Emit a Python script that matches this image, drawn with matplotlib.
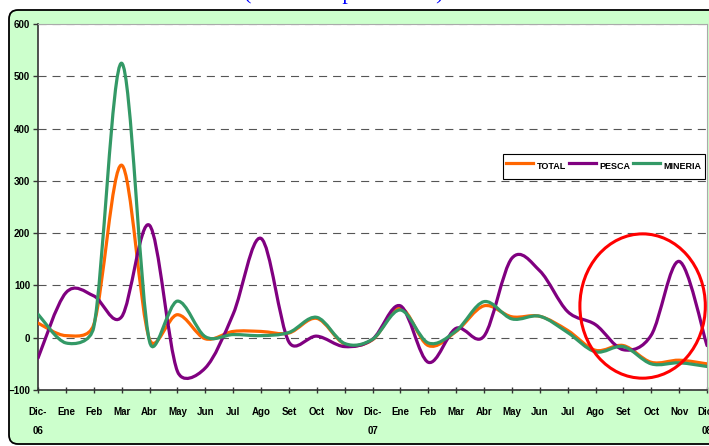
import numpy as np
import matplotlib
matplotlib.use('Agg')
import matplotlib.pyplot as plt
from matplotlib.path import Path
from matplotlib.patches import PathPatch, Ellipse, FancyBboxPatch
from matplotlib.lines import Line2D
from matplotlib.transforms import IdentityTransform

# datos (variacion porcentual mensual)
meses = ['Dic-\n06', 'Ene', 'Feb', 'Mar', 'Abr', 'May', 'Jun', 'Jul', 'Ago', 'Set', 'Oct', 'Nov',
         'Dic-\n07', 'Ene', 'Feb', 'Mar', 'Abr', 'May', 'Jun', 'Jul', 'Ago', 'Set', 'Oct', 'Nov',
         'Dic-\n08']
total = [28, 4, 25, 330, -3, 44, -2, 12, 12, 9, 37, -12,
         -4, 57, -15, 12, 61, 40, 41, 14, -24, -15, -47, -43, -50]
pesca = [-39, 86, 80, 40, 215, -64, -58, 45, 190, -8, 3, -17,
         -3, 61, -47, 18, 3, 152, 128, 50, 25, -23, 5, 146, -15]
mineria = [45, -10, 20, 525, -7, 70, 2, 6, 4, 10, 39, -11,
           -3, 53, -10, 13, 69, 36, 41, 10, -27, -17, -50, -48, -55]
y_ticks = [-100, 0, 100, 200, 300, 400, 500, 600]

series = [('TOTAL', total, '#FF6600'), ('PESCA', pesca, '#800080'), ('MINERIA', mineria, '#339966')]

plt.rcParams['font.family'] = ['Liberation Sans', 'DejaVu Sans']
plt.rcParams['font.weight'] = 'bold'
plt.rcParams['lines.scale_dashes'] = False


# linea suavizada como en Excel: Bezier con brazos 1/6, limitados a media cuerda
# (calculado en pixeles y devuelto a coordenadas de datos)
def suave(ax, x, y):
    p = ax.transData.transform(np.column_stack([x, y]).astype(float))
    p = np.vstack([p[0], p, p[-1]])
    verts = [p[1]]
    codes = [Path.MOVETO]
    for i in range(1, len(p) - 2):
        p0, p1, p2, p3 = p[i - 1], p[i], p[i + 1], p[i + 2]
        d12 = np.hypot(*(p2 - p1))
        d02 = np.hypot(*(p2 - p0))
        d13 = np.hypot(*(p3 - p1))
        f0 = 1 / 6 if d02 / 6 < d12 / 2 else (d12 / 2) / d02
        f1 = 1 / 6 if d13 / 6 < d12 / 2 else (d12 / 2) / d13
        verts += [p1 + (p2 - p0) * f0, p2 - (p3 - p1) * f1, p2]
        codes += [Path.CURVE4] * 3
    verts = ax.transData.inverted().transform(np.array(verts))
    return Path(verts, codes)


W, H = 709, 446
fig = plt.figure(figsize=(W / 100, H / 100), dpi=100)

# area del grafico (verde con borde redondeado)
fondo = FancyBboxPatch((9, 2), 760, 434, boxstyle='round,pad=0,rounding_size=9',
                       transform=IdentityTransform(), facecolor='#CCFFCC',
                       edgecolor='black', lw=1.3, zorder=0)
fig.add_artist(fondo)

# titulo (cortado arriba)
fig.text(344 / W, 1 + 1 / H, '(Variación porcentual)', ha='center', va='baseline',
         color='#0000FF', family='Liberation Serif', fontweight='normal', fontsize=16)

ax = fig.add_axes([38 / W, (H - 390) / H, (707 - 38) / W, (390 - 24) / H])
ax.set_facecolor('white')
x = np.arange(len(meses))
ax.set_xlim(0, len(meses) - 1)
ax.set_ylim(-100, 600)

for nombre, vals, color in series:
    ax.add_patch(PathPatch(suave(ax, x, vals), facecolor='none', edgecolor=color,
                           lw=2.3, capstyle='round', joinstyle='round', zorder=3))

ax.set_xticks(x)
ax.set_xticklabels(meses)
ax.set_yticks(y_ticks)

ax.set_axisbelow(True)
ax.yaxis.grid(True, color='#555555', linestyle=(0, (5.8, 4.3)), lw=0.8)

for s in ['left', 'bottom']:
    ax.spines[s].set_color('#333333')
    ax.spines[s].set_linewidth(1.2)
for s in ['top', 'right']:
    ax.spines[s].set_color('#aaaaaa')
    ax.spines[s].set_linewidth(0.8)

ax.tick_params(axis='y', direction='out', length=3.6, width=1, pad=2, labelsize=7,
               color='#333333')
ax.tick_params(axis='x', direction='inout', length=5, width=1, pad=10, labelsize=7,
               color='#333333')
for lbl in ax.get_xticklabels():
    lbl.set_linespacing(2.1)

# marca roja
ax.add_patch(Ellipse((21.69, 60.6), width=4.5, height=276, facecolor='none',
                     edgecolor='#FF0000', lw=2.2, zorder=5, clip_on=False))

handles = [Line2D([], [], color=c, lw=2.3) for _, _, c in series]
leg = fig.legend(handles, [n for n, _, _ in series], loc='upper left',
                 bbox_to_anchor=(503 / W, 1 - 154 / H), ncol=3, fontsize=6.5,
                 frameon=True, fancybox=False, framealpha=1, edgecolor='black',
                 borderpad=0.33, handlelength=3.0, handletextpad=0.4,
                 columnspacing=0.3, handleheight=2.9, borderaxespad=0)
leg.get_frame().set_linewidth(0.8)

fig.savefig('out.png', dpi=100)
